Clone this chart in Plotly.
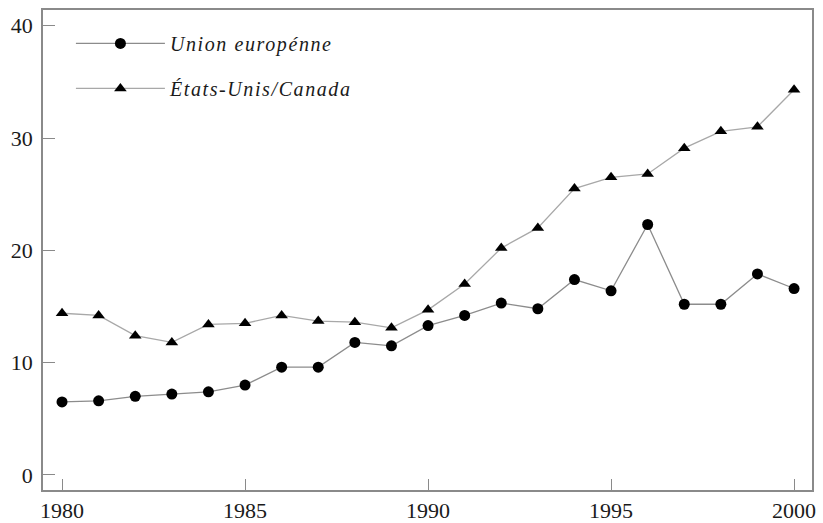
import plotly.graph_objects as go

years = list(range(1980, 2001))
eu_values = [6.5, 6.6, 7.0, 7.2, 7.4, 8.0, 9.6, 9.6, 11.8, 11.5, 13.3,
             14.2, 15.3, 14.8, 17.4, 16.4, 22.3, 15.2, 15.2, 17.9, 16.6]
us_values = [14.4, 14.2, 12.4, 11.8, 13.4, 13.5, 14.2, 13.7, 13.6, 13.1, 14.7,
             17.0, 20.2, 22.0, 25.5, 26.5, 26.8, 29.1, 30.6, 31.0, 34.3]
series_names = ["Union europénne", "États-Unis/Canada"]
x_ticks = [1980, 1985, 1990, 1995, 2000]
y_ticks = [0, 10, 20, 30, 40]

FONT = "Liberation Serif"
LINE_GREY = "#8c8c8c"
AXIS_GREY = "#8a8a8a"

def label(t):
    return f'<span style="letter-spacing:1.6px">{t}</span>'

fig = go.Figure()
fig.add_trace(go.Scatter(
    x=years, y=eu_values, name=label(series_names[0]), mode="lines+markers",
    line=dict(color=LINE_GREY, width=1.3),
    marker=dict(symbol="circle", size=11, color="black"),
    legendgroup="eu",
))
fig.add_trace(go.Scatter(
    x=years, y=us_values, name=label(series_names[1]), mode="lines+markers",
    line=dict(color="#a8a8a8", width=1.3),
    marker=dict(symbol="triangle-up", size=11, color="black"),
    legendgroup="us",
))

fig.update_layout(
    width=823, height=523,
    margin=dict(l=43, r=11, t=10, b=33, autoexpand=False),
    paper_bgcolor="white", plot_bgcolor="white",
    font=dict(family=FONT, size=20, color="#1a1a1a"),
    showlegend=True,
    legend=dict(
        x=0.0363, y=0.971, xanchor="left", yanchor="top",
        bgcolor="rgba(0,0,0,0)",
        font=dict(family=FONT, size=20, style="italic", color="#1a1a1a"),
        traceorder="grouped", tracegroupgap=16,
        itemwidth=89,
    ),
)
fig.update_xaxes(
    range=[1979.48, 2000.49], tickvals=x_ticks, automargin=False,
    ticks="inside", ticklen=11, tickcolor=AXIS_GREY, tickwidth=1.3,
    showline=True, mirror=True, linecolor=AXIS_GREY, linewidth=1.5,
    showgrid=False, zeroline=False,
    tickfont=dict(family=FONT, size=22, color="#1a1a1a"),
)
fig.update_yaxes(
    range=[-1.34, 41.4], tickvals=y_ticks, automargin=False,
    ticks="inside", ticklen=12, tickcolor=AXIS_GREY, tickwidth=1.3,
    showline=True, mirror=True, linecolor=AXIS_GREY, linewidth=1.5,
    showgrid=False, zeroline=False, ticklabelstandoff=4,
    tickfont=dict(family=FONT, size=22, color="#1a1a1a"),
)

fig.write_html("out.html", config={"displayModeBar": False},
               post_script="document.body.style.margin='0';")
